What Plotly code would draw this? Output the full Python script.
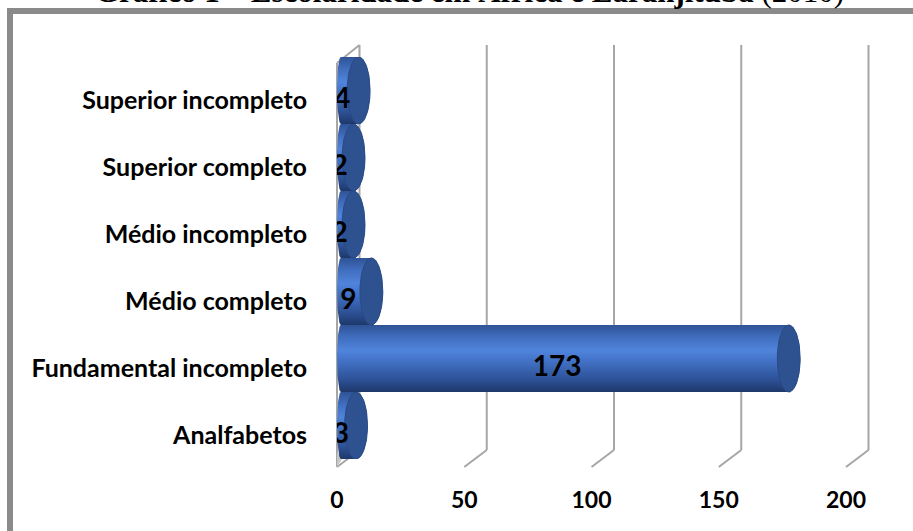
import numpy as np
import plotly.graph_objects as go

W, H = 913, 531

categories = ["Analfabetos", "Fundamental incompleto", "Médio completo",
              "Médio incompleto", "Superior completo", "Superior incompleto"]
values = [3, 173, 9, 2, 2, 4]
tick_vals = [0, 50, 100, 150, 200]
title_text = "<b>Gráfico 1 – Escolaridade em África e Laranjituba</b> (2010)"


def fx(px):
    return px / W


def fy(py):
    return 1 - py / H


FONT = "Lato"
K = (846 - 337) / 200.0   # px per value unit
RX = 4.5      # cap half-width in value units
RY = 0.5      # cap half-height in category units
RL = 1.5      # left rounding
X0 = -4.5     # left edge of bars in bar-axis units
SHIFT = 8.84  # back-wall offset in value units

cyl_scale = [[0.0, "#1E386B"], [0.2, "#2E5399"], [0.5, "#4576CC"],
             [0.62, "#5084DB"], [0.8, "#4270C2"], [1.0, "#2F5396"]]

fig = go.Figure()

t = np.linspace(0, 1, 40)
for i, v in enumerate(values):
    a_left = np.pi / 2 + t * np.pi
    xl = X0 + RL + RL * np.cos(a_left)
    yl = i + RY * np.sin(a_left)
    a_right = -np.pi / 2 + t * np.pi
    xr = v + RX * np.cos(a_right)
    yr = i + RY * np.sin(a_right)
    xs = np.concatenate([xl, xr, xl[:1]])
    ys = np.concatenate([yl, yr, yl[:1]])
    fig.add_trace(go.Scatter(
        x=xs, y=ys, mode="lines", fill="toself",
        line=dict(width=0, color="rgba(0,0,0,0)"),
        fillgradient=dict(type="vertical", colorscale=cyl_scale,
                          start=i - RY, stop=i + RY),
        hoverinfo="skip", showlegend=False, xaxis="x", yaxis="y"))
    a = np.linspace(0, 2 * np.pi, 80)
    fig.add_trace(go.Scatter(
        x=v + RX * np.cos(a), y=i + RY * np.sin(a), mode="lines", fill="toself",
        line=dict(width=1, color="#2A4A86"), fillcolor="#2E5190",
        hoverinfo="skip", showlegend=False, xaxis="x", yaxis="y"))

# data labels on front axes
fig.add_trace(go.Scatter(
    x=[v / 2 for v in values], y=categories, mode="text",
    text=[str(v) for v in values],
    textfont=dict(family=FONT, size=28, color="black", weight="bold"),
    hoverinfo="skip", showlegend=False, xaxis="x2", yaxis="y2"))

shapes = []
GRID = "#A6A6A6"
for tv in tick_vals:
    fxu = tv + X0            # front tick in bar-axis units
    bxu = tv + SHIFT + X0    # back-wall position
    shapes.append(dict(type="line", xref="x", yref="paper", layer="below",
                       x0=bxu, x1=bxu, y0=fy(450), y1=fy(45),
                       line=dict(color=GRID, width=2)))
    shapes.append(dict(type="line", xref="x", yref="paper", layer="below",
                       x0=bxu, x1=fxu, y0=fy(450), y1=fy(467),
                       line=dict(color=GRID, width=2)))
# left wall
shapes.append(dict(type="line", xref="x", yref="paper", layer="below",
                   x0=X0, x1=X0, y0=fy(467), y1=fy(63),
                   line=dict(color=GRID, width=2)))
shapes.append(dict(type="line", xref="x", yref="paper", layer="below",
                   x0=X0, x1=X0 + SHIFT, y0=fy(63), y1=fy(45),
                   line=dict(color=GRID, width=2)))
shapes.append(dict(type="path", xref="x", yref="paper", layer="below",
                   path=f"M {X0},{fy(467)} L {X0},{fy(453)} L {X0 + 3},{fy(455)} Z",
                   fillcolor="#C8C8C8", line=dict(width=0)))
# outer frame
shapes.append(dict(type="rect", xref="paper", yref="paper",
                   x0=fx(10), x1=fx(940), y0=fy(560), y1=fy(11),
                   line=dict(color="#8A8A8A", width=6)))

fig.update_layout(
    width=W, height=H, autosize=False,
    margin=dict(l=0, r=0, t=0, b=0, pad=0, autoexpand=False),
    paper_bgcolor="white", plot_bgcolor="rgba(0,0,0,0)",
    showlegend=False,
    shapes=shapes,
    xaxis=dict(domain=[fx(330), fx(913)],
               range=[X0 - 7 / K, X0 + (913 - 337) / K],
               visible=False, anchor="y", fixedrange=True, automargin=False),
    yaxis=dict(domain=[fy(459), fy(57)], range=[-0.5, 5.5],
               visible=False, anchor="x", fixedrange=True, automargin=False),
    xaxis2=dict(domain=[fx(337), fx(846)], range=[0, 200], anchor="y2",
                tickvals=tick_vals, showgrid=False, zeroline=False,
                showline=False, ticks="outside", ticklen=10, automargin=False,
                tickcolor="rgba(0,0,0,0)", fixedrange=True,
                tickfont=dict(family=FONT, size=23, color="black", weight="bold")),
    yaxis2=dict(domain=[fy(469), fy(67)], anchor="x2", type="category",
                categoryorder="array", categoryarray=categories,
                range=[-0.5, 5.5], showgrid=False, zeroline=False,
                showline=False, ticks="outside", ticklen=24, automargin=False,
                tickcolor="rgba(0,0,0,0)", fixedrange=True,
                tickfont=dict(family=FONT, size=25, color="black", weight="bold")),
    annotations=[dict(text=title_text, xref="paper", yref="paper",
                      x=fx(469), y=fy(10), xanchor="center", yanchor="bottom",
                      showarrow=False, borderpad=0,
                      font=dict(family="Liberation Serif", size=31, color="black"))],
)

fig.write_html("out.html", config={"responsive": False})
